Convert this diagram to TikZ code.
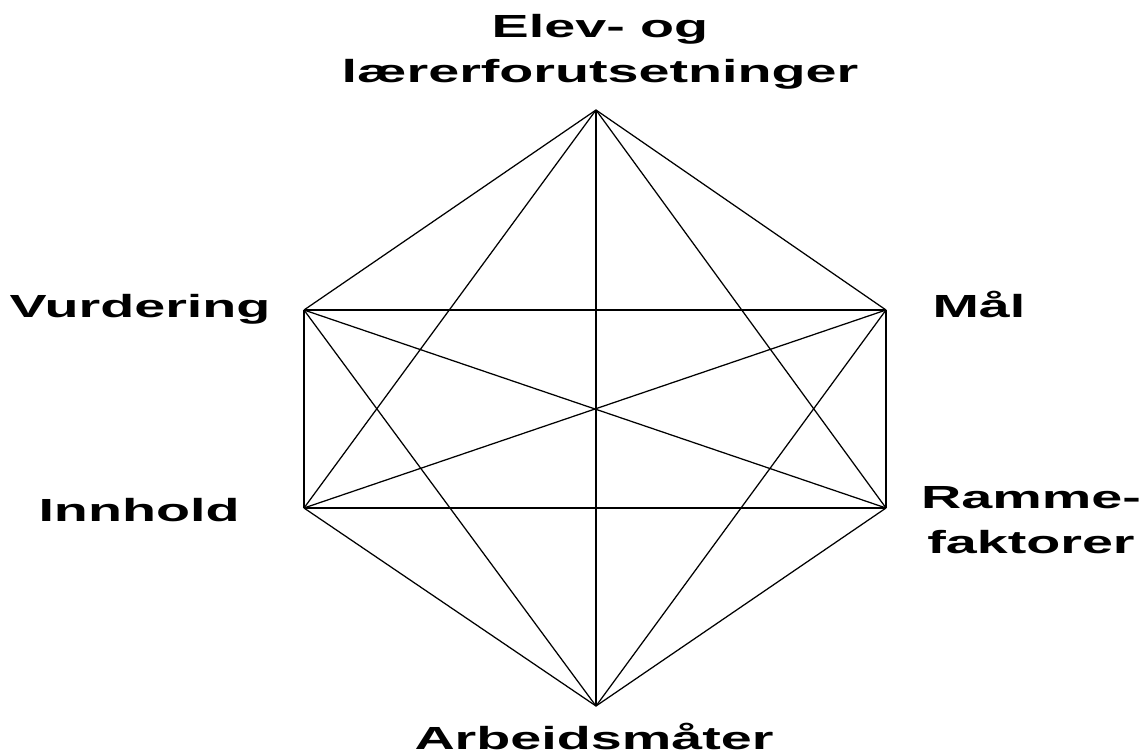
\documentclass[tikz,border=0pt]{standalone}
\usepackage{fontspec}
\setmainfont{Liberation Sans}[FakeStretch=1.74]
\usetikzlibrary{positioning}

\begin{document}
\begin{tikzpicture}[
    x=1pt, y=-1pt,
    faktor/.style={font=\fontsize{32}{45}\selectfont\bfseries, inner sep=0pt, align=center, anchor=base},
    kant/.style={line width=1.25pt, black}
]
\useasboundingbox (0,0) rectangle (1148,755);

% Corners
\coordinate (ctop) at (596,110);
\coordinate (cul) at (304,310);
\coordinate (cur) at (886,310);
\coordinate (cll) at (304,508);
\coordinate (clr) at (886,508);
\coordinate (cbot) at (596,706);

% Labels
\node[faktor] (elev) at (600,82) {Elev- og\\lærerforutsetninger};
\node[faktor] (vurdering) at (140,317) {Vurdering};
\node[faktor] (maal) at (979,317) {Mål};
\node[faktor] (innhold) at (139,521) {Innhold};
\node[faktor] (ramme) at (1031,553) {Ramme-\\faktorer};
\node[faktor] (arbeid) at (594,749) {Arbeidsmåter};

% Edges
\draw[kant] (ctop) -- (cul);
\draw[kant] (ctop) -- (cur);
\draw[kant] (ctop) -- (cll);
\draw[kant] (ctop) -- (clr);
\draw[kant] (ctop) -- (cbot);
\draw[kant] (cul) -- (cur);
\draw[kant] (cul) -- (cll);
\draw[kant] (cul) -- (clr);
\draw[kant] (cul) -- (cbot);
\draw[kant] (cur) -- (cll);
\draw[kant] (cur) -- (clr);
\draw[kant] (cur) -- (cbot);
\draw[kant] (cll) -- (clr);
\draw[kant] (cll) -- (cbot);
\draw[kant] (clr) -- (cbot);

\end{tikzpicture}
\end{document}
